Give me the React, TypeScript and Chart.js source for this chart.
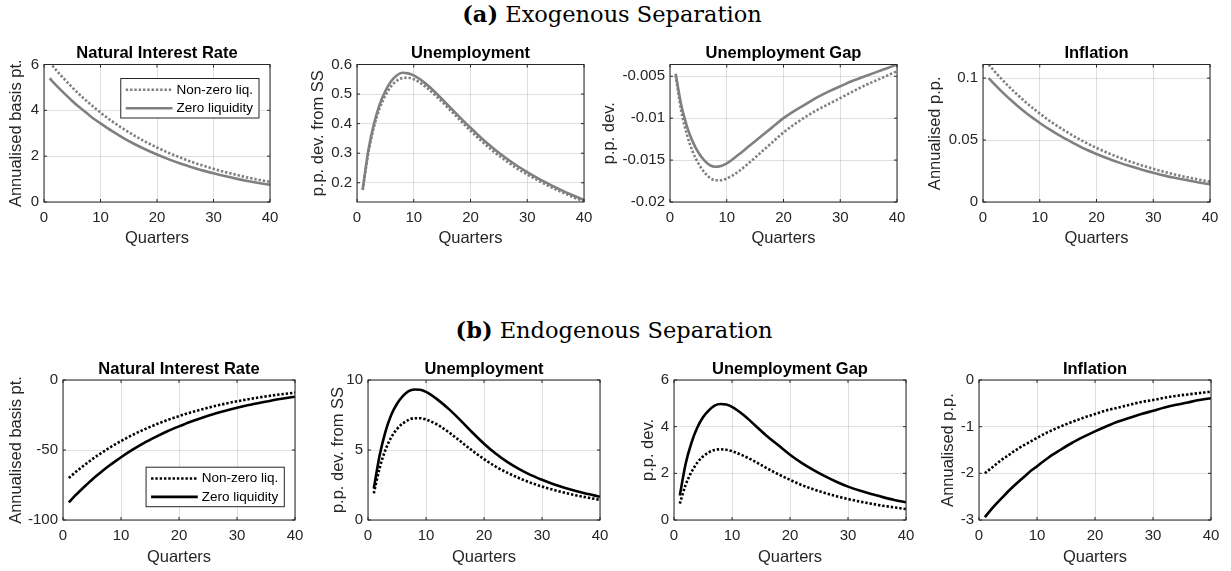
import React, { useEffect, useRef } from "react";
import { Chart, registerables } from "chart.js";

Chart.register(...registerables);

// ---------- data ----------
const quarters = [1, 2, 3, 4, 5, 6, 7, 8, 9, 10, 12, 14, 16, 18, 20, 22, 24, 26, 28, 30, 32, 34, 36, 38, 40];
const xTicks = [0, 10, 20, 30, 40];
const seriesLabels = ["Non-zero liq.", "Zero liquidity"];
const panelTitles = ["Natural Interest Rate", "Unemployment", "Unemployment Gap", "Inflation"];
const yLabels = ["Annualised basis pt.", "p.p. dev. from SS", "p.p. dev.", "Annualised p.p."];
const xLabel = "Quarters";
const sectionA = ["(a)", "Exogenous Separation"];
const sectionB = ["(b)", "Endogenous Separation"];

// (a) Exogenous separation
const exoRateNonZero = [6.10, 5.80, 5.52, 5.26, 5.00, 4.76, 4.53, 4.31, 4.10, 3.90, 3.53, 3.20, 2.90, 2.62, 2.38, 2.15, 1.95, 1.76, 1.60, 1.45, 1.31, 1.19, 1.07, 0.97, 0.88];
const exoRateZero = [5.40, 5.13, 4.88, 4.64, 4.41, 4.19, 3.99, 3.79, 3.60, 3.43, 3.10, 2.80, 2.53, 2.29, 2.07, 1.87, 1.69, 1.53, 1.38, 1.25, 1.13, 1.02, 0.92, 0.83, 0.75];
const exoUnempNonZero = [0.175, 0.30, 0.39, 0.452, 0.495, 0.526, 0.545, 0.554, 0.555, 0.550, 0.526, 0.492, 0.454, 0.415, 0.376, 0.340, 0.307, 0.278, 0.251, 0.228, 0.207, 0.187, 0.169, 0.152, 0.137];
const exoUnempZero = [0.178, 0.31, 0.40, 0.465, 0.51, 0.543, 0.563, 0.572, 0.570, 0.563, 0.537, 0.502, 0.463, 0.424, 0.386, 0.350, 0.317, 0.287, 0.260, 0.236, 0.214, 0.194, 0.175, 0.158, 0.142];
const exoGapNonZero = [-0.0049, -0.0092, -0.0120, -0.0140, -0.0154, -0.0164, -0.0171, -0.0174, -0.0174, -0.0172, -0.0164, -0.0153, -0.0141, -0.0129, -0.0117, -0.0107, -0.0098, -0.0090, -0.0083, -0.0076, -0.0069, -0.0062, -0.0056, -0.0050, -0.0044];
const exoGapZero = [-0.0047, -0.0085, -0.0110, -0.0128, -0.0141, -0.0150, -0.0156, -0.0158, -0.0157, -0.0154, -0.0144, -0.0133, -0.0122, -0.0111, -0.0100, -0.0091, -0.0083, -0.0075, -0.0068, -0.0062, -0.0056, -0.0051, -0.0046, -0.0041, -0.0036];
const exoInflNonZero = [0.1110, 0.1057, 0.1006, 0.0958, 0.0912, 0.0869, 0.0827, 0.0787, 0.0750, 0.0714, 0.0647, 0.0587, 0.0532, 0.0482, 0.0437, 0.0396, 0.0359, 0.0326, 0.0295, 0.0268, 0.0243, 0.0220, 0.0200, 0.0181, 0.0164];
const exoInflZero = [0.1000, 0.0951, 0.0905, 0.0861, 0.0819, 0.0779, 0.0741, 0.0705, 0.0671, 0.0638, 0.0578, 0.0523, 0.0474, 0.0428, 0.0388, 0.0351, 0.0318, 0.0288, 0.0260, 0.0236, 0.0213, 0.0193, 0.0175, 0.0158, 0.0143];

// (b) Endogenous separation
const endoRateNonZero = [-70.0, -66.4, -63.0, -59.8, -56.7, -53.8, -51.1, -48.4, -45.9, -43.6, -39.2, -35.3, -31.8, -28.6, -25.8, -23.2, -20.9, -18.8, -16.9, -15.2, -13.7, -12.3, -11.1, -10.0, -9.0];
const endoRateZero = [-87.4, -83.0, -78.9, -75.0, -71.2, -67.7, -64.3, -61.1, -58.1, -55.2, -49.8, -44.9, -40.6, -36.6, -33.1, -29.8, -26.9, -24.3, -22.0, -19.8, -17.9, -16.2, -14.6, -13.2, -11.9];
const endoUnempNonZero = [1.9, 3.7, 5.0, 5.9, 6.5, 6.9, 7.15, 7.27, 7.27, 7.18, 6.8, 6.25, 5.6, 4.95, 4.35, 3.82, 3.38, 3.0, 2.67, 2.39, 2.15, 1.94, 1.75, 1.59, 1.44];
const endoUnempZero = [2.25, 4.6, 6.3, 7.5, 8.3, 8.85, 9.2, 9.32, 9.3, 9.15, 8.6, 7.9, 7.1, 6.25, 5.45, 4.75, 4.15, 3.65, 3.22, 2.87, 2.55, 2.28, 2.05, 1.85, 1.66];
const endoGapNonZero = [0.7, 1.5, 2.05, 2.45, 2.72, 2.9, 3.0, 3.03, 3.01, 2.95, 2.75, 2.5, 2.22, 1.96, 1.72, 1.5, 1.32, 1.16, 1.02, 0.9, 0.79, 0.7, 0.61, 0.54, 0.47];
const endoGapZero = [1.05, 2.4, 3.3, 3.95, 4.4, 4.7, 4.9, 4.97, 4.95, 4.85, 4.5, 4.05, 3.6, 3.2, 2.8, 2.45, 2.15, 1.88, 1.64, 1.43, 1.26, 1.11, 0.98, 0.86, 0.76];
const endoInflNonZero = [-2.00, -1.90, -1.80, -1.70, -1.62, -1.53, -1.45, -1.38, -1.31, -1.24, -1.11, -1.00, -0.90, -0.81, -0.73, -0.65, -0.59, -0.53, -0.47, -0.43, -0.38, -0.34, -0.31, -0.28, -0.25];
const endoInflZero = [-2.94, -2.79, -2.65, -2.52, -2.39, -2.27, -2.16, -2.05, -1.94, -1.85, -1.66, -1.50, -1.35, -1.22, -1.10, -0.99, -0.89, -0.81, -0.73, -0.66, -0.59, -0.53, -0.48, -0.43, -0.39];

// y-axis ticks
const exoRateTicks = [0, 2, 4, 6];
const exoUnempTicks = [0.2, 0.3, 0.4, 0.5, 0.6];
const exoGapTicks = [-0.02, -0.015, -0.01, -0.005];
const exoInflTicks = [0, 0.05, 0.1];
const endoRateTicks = [-100, -50, 0];
const endoUnempTicks = [0, 5, 10];
const endoGapTicks = [0, 2, 4, 6];
const endoInflTicks = [-3, -2, -1, 0];

// ---------- styles ----------
const FONT = "'Liberation Sans', Arial, Helvetica, sans-serif";
const AXIS_COLOR = "#262626";
const GRID_COLOR = "rgba(38,38,38,0.15)";
const EXO_COLOR = "#808080";
const ENDO_COLOR = "#000000";
const LINE_W = 2.6;
const DOT_DASH = [2.4, 1.9];
const PAD_RIGHT = 18;

type Legend = { corner: "tr" | "br"; dx: number; dy: number } | null;
type Row = { top: number; bottom: number; plotTop: number };
type Spec = {
  title: string; yLabel: string; yMin: number; yMax: number; yTicks: number[];
  nonZero: number[]; zero: number[]; color: string;
  l: number; r: number; b: number; yTitleX: number; row: Row; legend: Legend;
};

const ROW_A: Row = { top: 44, bottom: 248, plotTop: 64.5 };
const ROW_B: Row = { top: 360, bottom: 567, plotTop: 380 };

const specs: Spec[] = [
  { title: panelTitles[0], yLabel: yLabels[0], yMin: 0, yMax: 6, yTicks: exoRateTicks, nonZero: exoRateNonZero, zero: exoRateZero, color: EXO_COLOR, l: 44, r: 270, b: 202, yTitleX: 17, row: ROW_A, legend: { corner: "tr", dx: 11, dy: 14 } },
  { title: panelTitles[1], yLabel: yLabels[1], yMin: 0.135, yMax: 0.6, yTicks: exoUnempTicks, nonZero: exoUnempNonZero, zero: exoUnempZero, color: EXO_COLOR, l: 357, r: 584, b: 202, yTitleX: 319, row: ROW_A, legend: null },
  { title: panelTitles[2], yLabel: yLabels[2], yMin: -0.02, yMax: -0.0036, yTicks: exoGapTicks, nonZero: exoGapNonZero, zero: exoGapZero, color: EXO_COLOR, l: 670, r: 897, b: 202, yTitleX: 610, row: ROW_A, legend: null },
  { title: panelTitles[3], yLabel: yLabels[3], yMin: 0, yMax: 0.111, yTicks: exoInflTicks, nonZero: exoInflNonZero, zero: exoInflZero, color: EXO_COLOR, l: 983, r: 1210, b: 202, yTitleX: 936, row: ROW_A, legend: null },
  { title: panelTitles[0], yLabel: yLabels[0], yMin: -100, yMax: 0, yTicks: endoRateTicks, nonZero: endoRateNonZero, zero: endoRateZero, color: ENDO_COLOR, l: 63, r: 295, b: 520, yTitleX: 17, row: ROW_B, legend: { corner: "br", dx: 10.7, dy: 13.3 } },
  { title: panelTitles[1], yLabel: yLabels[1], yMin: 0, yMax: 10, yTicks: endoUnempTicks, nonZero: endoUnempNonZero, zero: endoUnempZero, color: ENDO_COLOR, l: 368, r: 600, b: 520, yTitleX: 339, row: ROW_B, legend: null },
  { title: panelTitles[2], yLabel: yLabels[2], yMin: 0, yMax: 6, yTicks: endoGapTicks, nonZero: endoGapNonZero, zero: endoGapZero, color: ENDO_COLOR, l: 674, r: 906, b: 520, yTitleX: 649, row: ROW_B, legend: null },
  { title: panelTitles[3], yLabel: yLabels[3], yMin: -3, yMax: 0, yTicks: endoInflTicks, nonZero: endoInflNonZero, zero: endoInflZero, color: ENDO_COLOR, l: 979, r: 1211, b: 520, yTitleX: 949, row: ROW_B, legend: null },
];

// frame (box + inward ticks) and legend drawn inside the axes, MATLAB-style
const framePlugin = {
  id: "matlabFrame",
  afterDraw(chart: any) {
    const { ctx, chartArea: ca, scales } = chart;
    const opts = chart.options.plugins.matlabFrame || {};
    ctx.save();
    ctx.strokeStyle = AXIS_COLOR;
    ctx.lineWidth = 1;
    ctx.setLineDash([]);
    ctx.strokeRect(ca.left, ca.top, ca.right - ca.left, ca.bottom - ca.top);
    const tl = 3;
    ctx.beginPath();
    for (const t of scales.x.ticks) {
      const px = scales.x.getPixelForValue(t.value);
      ctx.moveTo(px, ca.bottom); ctx.lineTo(px, ca.bottom - tl);
      ctx.moveTo(px, ca.top); ctx.lineTo(px, ca.top + tl);
    }
    for (const t of scales.y.ticks) {
      const py = scales.y.getPixelForValue(t.value);
      ctx.moveTo(ca.left, py); ctx.lineTo(ca.left + tl, py);
      ctx.moveTo(ca.right, py); ctx.lineTo(ca.right - tl, py);
    }
    ctx.stroke();

    const lg: Legend = opts.legend;
    if (lg) {
      ctx.font = `13.5px ${FONT}`;
      const ds = chart.data.datasets;
      const tw = Math.max(...ds.map((d: any) => ctx.measureText(d.label).width));
      const sample = 46.7;
      const w = 5 + sample + 4 + tw + 6;
      const h = 39.5;
      const x0 = ca.right - lg.dx - w;
      const y0 = lg.corner === "tr" ? ca.top + lg.dy : ca.bottom - lg.dy - h;
      ctx.fillStyle = "#ffffff";
      ctx.fillRect(x0, y0, w, h);
      ctx.strokeStyle = AXIS_COLOR;
      ctx.lineWidth = 1;
      ctx.strokeRect(x0, y0, w, h);
      ds.forEach((d: any, i: number) => {
        const yy = y0 + 11.3 + i * 18.4;
        ctx.strokeStyle = d.borderColor;
        ctx.lineWidth = d.borderWidth;
        ctx.setLineDash(d.borderDash || []);
        ctx.beginPath();
        ctx.moveTo(x0 + 5, yy);
        ctx.lineTo(x0 + 5 + sample, yy);
        ctx.stroke();
        ctx.setLineDash([]);
        ctx.fillStyle = "#000000";
        ctx.textBaseline = "middle";
        ctx.textAlign = "left";
        ctx.fillText(d.label, x0 + 5 + sample + 4, yy);
      });
    }
    ctx.restore();
  },
};

function Panel({ s }: { s: Spec }) {
  const ref = useRef<HTMLCanvasElement>(null);
  const left = Math.round(s.yTitleX - 9.9);
  const top = s.row.top;
  const width = Math.round(s.r - left + PAD_RIGHT);
  const height = s.row.bottom - s.row.top;
  const yAxisW = s.l - left;
  const xAxisH = s.row.bottom - s.b;
  const titlePadBottom = s.row.plotTop - s.row.top - 19.8;

  useEffect(() => {
    const mk = (vals: number[]) => quarters.map((q, i) => ({ x: q, y: vals[i] }));
    const chart = new Chart(ref.current as HTMLCanvasElement, {
      type: "line",
      data: {
        datasets: [
          { label: seriesLabels[0], data: mk(s.nonZero), borderColor: s.color, borderWidth: LINE_W, borderDash: DOT_DASH, pointRadius: 0, cubicInterpolationMode: "monotone", fill: false },
          { label: seriesLabels[1], data: mk(s.zero), borderColor: s.color, borderWidth: LINE_W, borderDash: [], pointRadius: 0, cubicInterpolationMode: "monotone", fill: false },
        ],
      },
      options: {
        animation: false,
        responsive: false,
        events: [],
        layout: { padding: { left: 0, right: PAD_RIGHT, top: 0, bottom: 0 } },
        plugins: {
          legend: { display: false },
          tooltip: { enabled: false },
          title: {
            display: true,
            fullSize: false,
            text: s.title,
            color: "#000000",
            font: { family: FONT, size: 16.5, weight: "bold" },
            padding: { top: 0, bottom: titlePadBottom },
          },
          matlabFrame: { legend: s.legend },
        } as any,
        scales: {
          x: {
            type: "linear",
            min: 0,
            max: 40,
            afterBuildTicks: (sc: any) => { sc.ticks = xTicks.map((v) => ({ value: v })); },
            afterFit: (sc: any) => { sc.height = xAxisH; },
            ticks: { padding: 7, color: AXIS_COLOR, font: { family: FONT, size: 15 }, maxRotation: 0, autoSkip: false, callback: (v: any) => String(v) },
            grid: { color: GRID_COLOR, lineWidth: 1, drawTicks: false },
            border: { display: false },
            title: { display: true, text: xLabel, color: AXIS_COLOR, font: { family: FONT, size: 16.5 }, padding: { top: 0, bottom: 0 } },
          },
          y: {
            type: "linear",
            min: s.yMin,
            max: s.yMax,
            afterBuildTicks: (sc: any) => { sc.ticks = s.yTicks.map((v) => ({ value: v })); },
            afterFit: (sc: any) => { sc.width = yAxisW; },
            ticks: { padding: 5, color: AXIS_COLOR, font: { family: FONT, size: 15 }, autoSkip: false, callback: (v: any) => String(v) },
            grid: { color: GRID_COLOR, lineWidth: 1, drawTicks: false },
            border: { display: false },
            title: { display: true, text: s.yLabel, color: AXIS_COLOR, font: { family: FONT, size: 16.5 }, padding: { top: 0, bottom: 0 } },
          },
        },
      } as any,
      plugins: [framePlugin],
    });
    return () => chart.destroy();
  }, []);

  return (
    <canvas
      ref={ref}
      width={width}
      height={height}
      style={{ position: "absolute", left, top, width, height, display: "block" }}
    />
  );
}

function SectionTitle({ parts, cx, top }: { parts: string[]; cx: number; top: number }) {
  return (
    <div
      style={{
        position: "absolute",
        left: cx,
        top,
        transform: "translateX(-50%)",
        whiteSpace: "nowrap",
        fontFamily: "'DejaVu Serif', 'Liberation Serif', serif",
        fontSize: 22.5,
        lineHeight: "28px",
        color: "#000",
      }}
    >
      <b>{parts[0]}</b> {parts[1]}
    </div>
  );
}

export default function App() {
  return (
    <div style={{ position: "absolute", left: 0, top: 0, width: 1231, height: 571, background: "#fff" }}>
      <SectionTitle parts={sectionA} cx={612} top={0} />
      <SectionTitle parts={sectionB} cx={614} top={316} />
      {specs.map((s, i) => (
        <Panel key={i} s={s} />
      ))}
    </div>
  );
}
